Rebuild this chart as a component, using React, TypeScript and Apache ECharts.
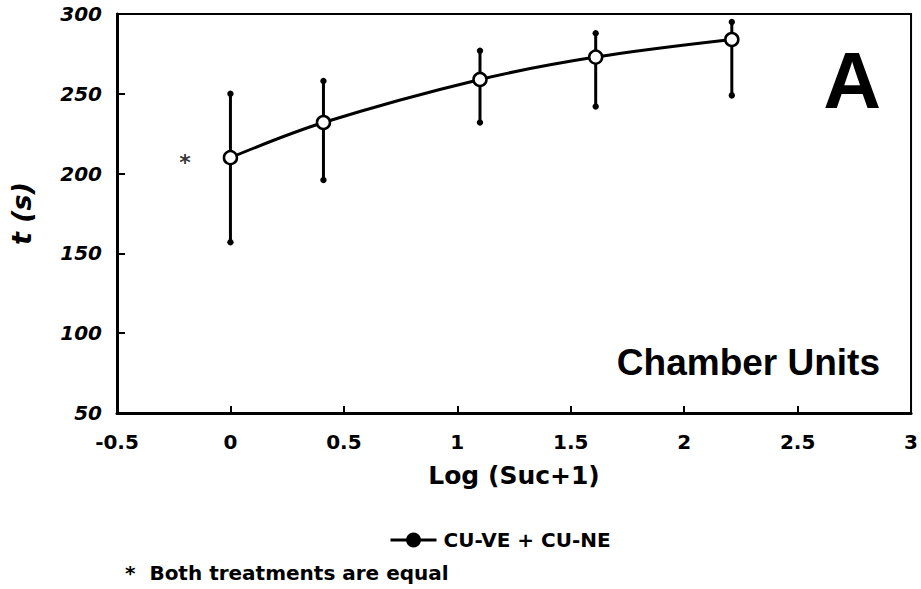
import React, { useEffect, useRef } from "react";
import * as echarts from "echarts";

const seriesName = "CU-VE + CU-NE";
const xValues = [0, 0.41, 1.1, 1.61, 2.21];
const meanValues = [210, 232, 259, 273, 284];
const upperValues = [250, 258, 277, 288, 295];
const lowerValues = [157, 196, 232, 242, 249];
const equalMarkX = [-0.2];
const equalMarkY = [210];
const xAxisTitle = "Log (Suc+1)";
const yAxisTitle = "t (s)";
const panelLetter = "A";
const panelLabel = "Chamber Units";
const footnote = "*  Both treatments are equal";

const NUM_FONT = "DejaVu Sans";
const HEAD_FONT = "Liberation Sans";

export default function App() {
  const ref = useRef<HTMLDivElement>(null);
  useEffect(() => {
    if (!ref.current) return;
    const chart = echarts.init(ref.current, undefined, { renderer: "svg" });
    const lineData = xValues.map((x, i) => [x, meanValues[i]]);
    const errData = xValues.map((x, i) => [x, lowerValues[i], upperValues[i]]);
    const starData = equalMarkX.map((x, i) => [x, equalMarkY[i]]);
    chart.setOption({
      animation: false,
      backgroundColor: "#fff",
      grid: {
        left: 115,
        right: 8,
        top: 14,
        bottom: 176,
        show: true,
        borderColor: "#000",
        borderWidth: 2,
        backgroundColor: "transparent",
      },
      xAxis: {
        type: "value",
        min: -0.5,
        max: 3,
        interval: 0.5,
        name: xAxisTitle,
        nameLocation: "middle",
        nameGap: 50,
        nameTextStyle: { fontFamily: NUM_FONT, fontWeight: "bold", fontSize: 25, color: "#000" },
        axisLine: { show: true, onZero: false, lineStyle: { color: "#000", width: 3 } },
        axisTick: { show: true, inside: true, length: 7, lineStyle: { color: "#000", width: 2 } },
        axisLabel: {
          show: true,
          margin: 19,
          fontFamily: NUM_FONT,
          fontWeight: "bold",
          fontSize: 20,
          color: "#000",
          showMinLabel: true,
          showMaxLabel: true,
        },
        splitLine: { show: false },
      },
      yAxis: {
        type: "value",
        min: 50,
        max: 300,
        interval: 50,
        name: yAxisTitle,
        nameLocation: "middle",
        nameGap: 82,
        nameRotate: 90,
        nameTextStyle: {
          fontFamily: NUM_FONT,
          fontWeight: "bold",
          fontStyle: "italic",
          fontSize: 27,
          color: "#000",
        },
        axisLine: { show: true, onZero: false, lineStyle: { color: "#000", width: 3 } },
        axisTick: { show: true, inside: true, length: 8, lineStyle: { color: "#000", width: 2 } },
        axisLabel: {
          show: true,
          margin: 15,
          fontFamily: NUM_FONT,
          fontWeight: "bold",
          fontStyle: "italic",
          fontSize: 20,
          color: "#000",
          showMinLabel: true,
          showMaxLabel: true,
        },
        splitLine: { show: false },
      },
      legend: {
        show: true,
        data: [seriesName],
        left: 384,
        top: 525,
        itemWidth: 46,
        itemHeight: 16,
        itemGap: 6,
        itemStyle: { color: "#000", borderColor: "#000" },
        lineStyle: { color: "#000", width: 3 },
        textStyle: { fontFamily: NUM_FONT, fontWeight: "bold", fontSize: 20, color: "#000", padding: [0, 0, 0, 2] },
      },
      graphic: [
        {
          type: "text",
          x: 881,
          y: 80,
          style: {
            text: panelLetter,
            font: `bold 80px "${HEAD_FONT}"`,
            fill: "#000",
            textAlign: "right",
            textVerticalAlign: "middle",
          },
        },
        {
          type: "text",
          x: 880,
          y: 362,
          style: {
            text: panelLabel,
            font: `bold 37px "${HEAD_FONT}"`,
            fill: "#000",
            textAlign: "right",
            textVerticalAlign: "middle",
          },
        },
        {
          type: "text",
          x: 125,
          y: 573,
          style: {
            text: footnote,
            font: `bold 20px "${NUM_FONT}"`,
            fill: "#000",
            textAlign: "left",
            textVerticalAlign: "middle",
          },
        },
      ],
      series: [
        {
          type: "custom",
          name: "err",
          z: 2,
          data: errData,
          renderItem: (params: any, api: any) => {
            const x = api.value(0);
            const lo = api.coord([x, api.value(1)]);
            const hi = api.coord([x, api.value(2)]);
            return {
              type: "group",
              children: [
                {
                  type: "line",
                  shape: { x1: lo[0], y1: lo[1], x2: hi[0], y2: hi[1] },
                  style: { stroke: "#000", lineWidth: 3 },
                },
                { type: "circle", shape: { cx: lo[0], cy: lo[1], r: 3.2 }, style: { fill: "#000" } },
                { type: "circle", shape: { cx: hi[0], cy: hi[1], r: 3.2 }, style: { fill: "#000" } },
              ],
            };
          },
        },
        {
          type: "line",
          name: seriesName,
          z: 3,
          data: lineData,
          smooth: 0.35,
          symbol: "circle",
          symbolSize: 13,
          lineStyle: { color: "#000", width: 3 },
          itemStyle: { color: "#fff", borderColor: "#000", borderWidth: 2.5 },
        },
        {
          type: "scatter",
          name: "equal",
          z: 3,
          data: starData,
          symbol: "circle",
          symbolSize: 1,
          itemStyle: { color: "transparent" },
          label: {
            show: true,
            position: "inside",
            formatter: "*",
            fontFamily: NUM_FONT,
            fontWeight: "bold",
            fontSize: 22,
            color: "#000",
            offset: [0, 5],
          },
        },
      ],
    });
    return () => chart.dispose();
  }, []);
  return (
    <div
      ref={ref}
      style={{ position: "absolute", left: 0, top: 0, width: 921, height: 589, background: "#fff" }}
    />
  );
}
